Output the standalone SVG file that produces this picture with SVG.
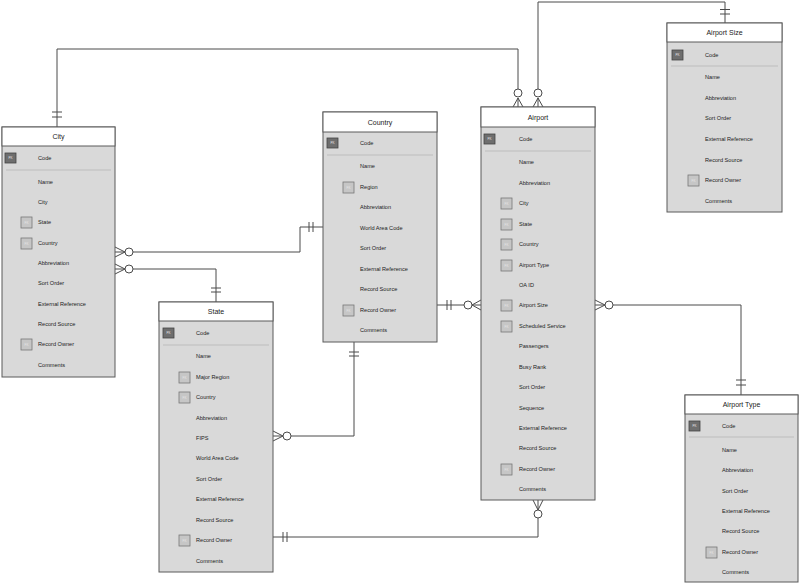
<svg xmlns="http://www.w3.org/2000/svg" width="800" height="585" viewBox="0 0 800 585">
  <style>
    .body { fill: #d9d9d9; stroke: #5a5a5a; stroke-width: 1; }
    .head { fill: #ffffff; stroke: #5a5a5a; stroke-width: 1; }
    .title { font-family: "Liberation Sans", Arial, sans-serif; font-size: 7px; fill: #222; text-anchor: middle; }
    .col { font-family: "Liberation Sans", Arial, sans-serif; font-size: 5.6px; fill: #222; }
    .sep { stroke: #bdbdbd; stroke-width: 1; }
    .pk { fill: #6e6e6e; stroke: #444; stroke-width: 0.8; }
    .fk { fill: #c6c6c6; stroke: #777; stroke-width: 0.8; }
    .kt { font-family: "Liberation Sans", Arial, sans-serif; font-size: 3px; fill: #e6e6e6; text-anchor: middle; }
    .conn { fill: none; stroke: #4a4a4a; stroke-width: 1; }
    .ring { fill: #ffffff; stroke: #4a4a4a; stroke-width: 1; }
  </style>

  <!-- relationship lines -->
  <g id="connectors">
    <!-- City to Airport (over the top) -->
    <path class="conn" d="M57,127 V49 H518 V97"/>
    <path class="conn" d="M52,112 H62 M52,117 H62"/>
    <circle class="ring" cx="518" cy="93" r="4"/>
    <path class="conn" d="M518,98 L513,107 M518,98 V107 M518,98 L523,107"/>

    <!-- Airport Size to Airport -->
    <path class="conn" d="M538,97 V2 H725 V23"/>
    <path class="conn" d="M720,9.5 H730 M720,14 H730"/>
    <circle class="ring" cx="538" cy="93" r="4"/>
    <path class="conn" d="M538,98 L533,107 M538,98 V107 M538,98 L543,107"/>

    <!-- Country to City -->
    <path class="conn" d="M133,252 H300 V227 H323"/>
    <path class="conn" d="M309,222 V232 M313,222 V232"/>
    <circle class="ring" cx="129" cy="252" r="4"/>
    <path class="conn" d="M125,252 L115,247 M125,252 H115 M125,252 L115,257"/>

    <!-- State to City -->
    <path class="conn" d="M133,269 H216 V302"/>
    <path class="conn" d="M211,288 H221 M211,292 H221"/>
    <circle class="ring" cx="129" cy="269" r="4"/>
    <path class="conn" d="M125,269 L115,264 M125,269 H115 M125,269 L115,274"/>

    <!-- Country to Airport -->
    <path class="conn" d="M437,305 H464"/>
    <path class="conn" d="M447,300 V310 M451,300 V310"/>
    <circle class="ring" cx="468" cy="305" r="4"/>
    <path class="conn" d="M472,305 L481,300 M472,305 H481 M472,305 L481,310"/>

    <!-- Airport Type to Airport -->
    <path class="conn" d="M613,305 H741 V395"/>
    <path class="conn" d="M736,380 H746 M736,385 H746"/>
    <circle class="ring" cx="609" cy="305" r="4"/>
    <path class="conn" d="M605,305 L595,300 M605,305 H595 M605,305 L595,310"/>

    <!-- Country to State -->
    <path class="conn" d="M354,342 V436 H291"/>
    <path class="conn" d="M349,352 H359 M349,356 H359"/>
    <circle class="ring" cx="287" cy="436" r="4"/>
    <path class="conn" d="M283,436 L273,431 M283,436 H273 M283,436 L273,441"/>

    <!-- State to Airport -->
    <path class="conn" d="M273,537 H538 V518"/>
    <path class="conn" d="M283,532 V542 M287,532 V542"/>
    <circle class="ring" cx="538" cy="514" r="4"/>
    <path class="conn" d="M538,510 L533,500 M538,510 V500 M538,510 L543,500"/>
  </g>

  <!-- City -->
  <g id="city">
    <rect class="body" x="2" y="127" width="113" height="250"/>
    <rect class="head" x="2" y="127" width="113" height="19"/>
    <text class="title" x="58.5" y="139">City</text>
    <rect class="pk" x="5" y="153" width="11" height="10"/><text class="kt" x="10.5" y="159">PK</text>
    <line class="sep" x1="6" y1="170" x2="111" y2="170"/>
    <rect class="fk" x="21" y="217" width="11" height="11"/><text class="kt" x="26.5" y="223.5">FK</text>
    <rect class="fk" x="21" y="238" width="11" height="11"/><text class="kt" x="26.5" y="244.5">FK</text>
    <rect class="fk" x="21" y="339" width="11" height="11"/><text class="kt" x="26.5" y="345.5">FK</text>
    <g class="col">
      <text x="38" y="160">Code</text>
      <text x="38" y="184">Name</text>
      <text x="38" y="204">City</text>
      <text x="38" y="224">State</text>
      <text x="38" y="245">Country</text>
      <text x="38" y="265">Abbreviation</text>
      <text x="38" y="285">Sort Order</text>
      <text x="38" y="306">External Reference</text>
      <text x="38" y="326">Record Source</text>
      <text x="38" y="346">Record Owner</text>
      <text x="38" y="367">Comments</text>
    </g>
  </g>

  <!-- Country -->
  <g id="country">
    <rect class="body" x="323" y="112" width="114" height="230"/>
    <rect class="head" x="323" y="112" width="114" height="20"/>
    <text class="title" x="380" y="125">Country</text>
    <rect class="pk" x="327" y="138" width="11" height="10"/><text class="kt" x="332.5" y="144">PK</text>
    <line class="sep" x1="327" y1="155" x2="433" y2="155"/>
    <rect class="fk" x="343" y="182" width="11" height="11"/><text class="kt" x="348.5" y="188.5">FK</text>
    <rect class="fk" x="343" y="305" width="11" height="11"/><text class="kt" x="348.5" y="311.5">FK</text>
    <g class="col">
      <text x="360" y="145">Code</text>
      <text x="360" y="168">Name</text>
      <text x="360" y="189">Region</text>
      <text x="360" y="209">Abbreviation</text>
      <text x="360" y="230">World Area Code</text>
      <text x="360" y="250">Sort Order</text>
      <text x="360" y="271">External Reference</text>
      <text x="360" y="291">Record Source</text>
      <text x="360" y="312">Record Owner</text>
      <text x="360" y="332">Comments</text>
    </g>
  </g>

  <!-- Airport -->
  <g id="airport">
    <rect class="body" x="481" y="107" width="114" height="393"/>
    <rect class="head" x="481" y="107" width="114" height="20"/>
    <text class="title" x="538" y="120">Airport</text>
    <rect class="pk" x="484" y="134" width="11" height="10"/><text class="kt" x="489.5" y="140">PK</text>
    <line class="sep" x1="485" y1="151" x2="591" y2="151"/>
    <rect class="fk" x="501" y="198" width="11" height="11"/><text class="kt" x="506.5" y="204.5">FK</text>
    <rect class="fk" x="501" y="219" width="11" height="11"/><text class="kt" x="506.5" y="225.5">FK</text>
    <rect class="fk" x="501" y="239" width="11" height="11"/><text class="kt" x="506.5" y="245.5">FK</text>
    <rect class="fk" x="501" y="260" width="11" height="11"/><text class="kt" x="506.5" y="266.5">FK</text>
    <rect class="fk" x="501" y="300" width="11" height="11"/><text class="kt" x="506.5" y="306.5">FK</text>
    <rect class="fk" x="501" y="321" width="11" height="11"/><text class="kt" x="506.5" y="327.5">FK</text>
    <rect class="fk" x="501" y="464" width="11" height="11"/><text class="kt" x="506.5" y="470.5">FK</text>
    <g class="col">
      <text x="519" y="141">Code</text>
      <text x="519" y="164">Name</text>
      <text x="519" y="185">Abbreviation</text>
      <text x="519" y="205">City</text>
      <text x="519" y="226">State</text>
      <text x="519" y="246">Country</text>
      <text x="519" y="267">Airport Type</text>
      <text x="519" y="287">OA ID</text>
      <text x="519" y="307">Airport Size</text>
      <text x="519" y="328">Scheduled Service</text>
      <text x="519" y="348">Passengers</text>
      <text x="519" y="369">Busy Rank</text>
      <text x="519" y="389">Sort Order</text>
      <text x="519" y="410">Sequence</text>
      <text x="519" y="430">External Reference</text>
      <text x="519" y="450">Record Source</text>
      <text x="519" y="471">Record Owner</text>
      <text x="519" y="491">Comments</text>
    </g>
  </g>

  <!-- Airport Size -->
  <g id="airport-size">
    <rect class="body" x="667" y="23" width="115" height="189"/>
    <rect class="head" x="667" y="23" width="115" height="19"/>
    <text class="title" x="724.5" y="35">Airport Size</text>
    <rect class="pk" x="672" y="50" width="11" height="10"/><text class="kt" x="677.5" y="56">PK</text>
    <line class="sep" x1="671" y1="66" x2="778" y2="66"/>
    <rect class="fk" x="688" y="175" width="11" height="11"/><text class="kt" x="693.5" y="181.5">FK</text>
    <g class="col">
      <text x="705" y="57">Code</text>
      <text x="705" y="79">Name</text>
      <text x="705" y="100">Abbreviation</text>
      <text x="705" y="120">Sort Order</text>
      <text x="705" y="141">External Reference</text>
      <text x="705" y="162">Record Source</text>
      <text x="705" y="182">Record Owner</text>
      <text x="705" y="203">Comments</text>
    </g>
  </g>

  <!-- State -->
  <g id="state">
    <rect class="body" x="159" y="302" width="114" height="270"/>
    <rect class="head" x="159" y="302" width="114" height="19"/>
    <text class="title" x="216" y="314">State</text>
    <rect class="pk" x="163" y="328" width="11" height="10"/><text class="kt" x="168.5" y="334">PK</text>
    <line class="sep" x1="163" y1="345" x2="269" y2="345"/>
    <rect class="fk" x="179" y="372" width="11" height="11"/><text class="kt" x="184.5" y="378.5">FK</text>
    <rect class="fk" x="179" y="392" width="11" height="11"/><text class="kt" x="184.5" y="398.5">FK</text>
    <rect class="fk" x="179" y="535" width="11" height="11"/><text class="kt" x="184.5" y="541.5">FK</text>
    <g class="col">
      <text x="196" y="335">Code</text>
      <text x="196" y="358">Name</text>
      <text x="196" y="379">Major Region</text>
      <text x="196" y="399">Country</text>
      <text x="196" y="420">Abbreviation</text>
      <text x="196" y="440">FIPS</text>
      <text x="196" y="460">World Area Code</text>
      <text x="196" y="481">Sort Order</text>
      <text x="196" y="501">External Reference</text>
      <text x="196" y="522">Record Source</text>
      <text x="196" y="542">Record Owner</text>
      <text x="196" y="563">Comments</text>
    </g>
  </g>

  <!-- Airport Type -->
  <g id="airport-type">
    <rect class="body" x="685" y="395" width="113" height="187"/>
    <rect class="head" x="685" y="395" width="113" height="19"/>
    <text class="title" x="741.5" y="407">Airport Type</text>
    <rect class="pk" x="689" y="421" width="11" height="10"/><text class="kt" x="694.5" y="427">PK</text>
    <line class="sep" x1="689" y1="437" x2="794" y2="437"/>
    <rect class="fk" x="706" y="547" width="11" height="11"/><text class="kt" x="711.5" y="553.5">FK</text>
    <g class="col">
      <text x="722" y="428">Code</text>
      <text x="722" y="452">Name</text>
      <text x="722" y="472">Abbreviation</text>
      <text x="722" y="493">Sort Order</text>
      <text x="722" y="513">External Reference</text>
      <text x="722" y="533">Record Source</text>
      <text x="722" y="554">Record Owner</text>
      <text x="722" y="574">Comments</text>
    </g>
  </g>
</svg>
